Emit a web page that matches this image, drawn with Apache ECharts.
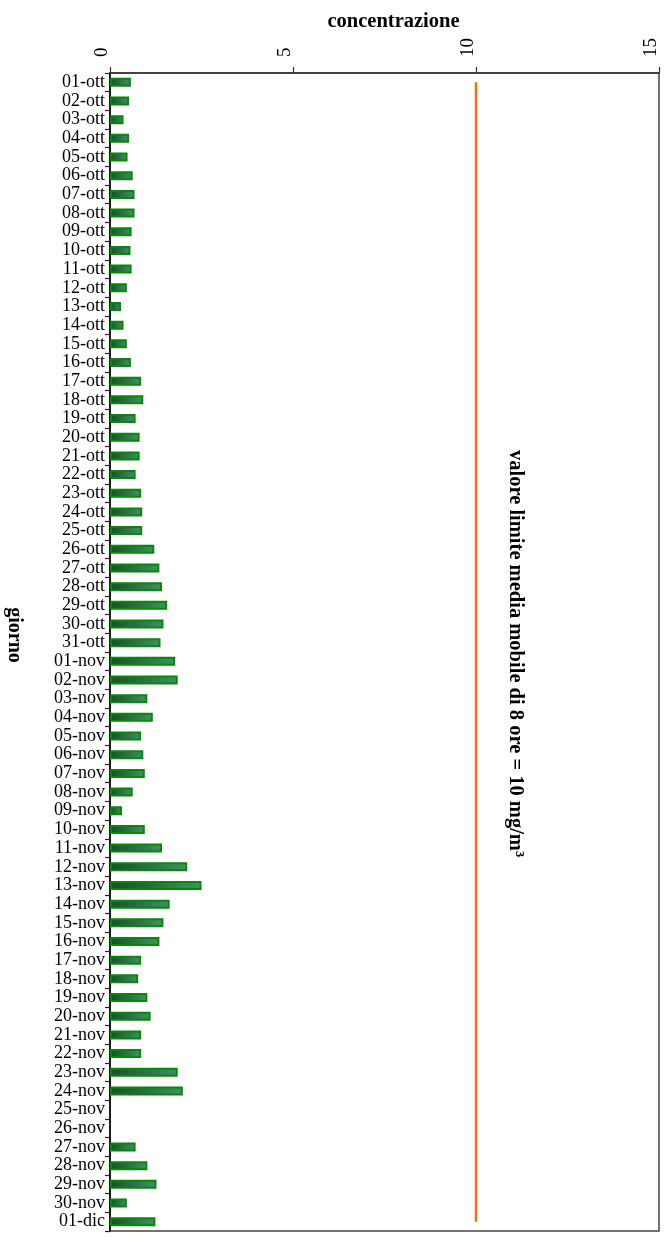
<!DOCTYPE html>
<html>
<head>
<meta charset="utf-8">
<script src="https://cdn.jsdelivr.net/npm/echarts@6/dist/echarts.min.js"></script>
<style>
html,body{margin:0;padding:0;background:#fff;}
#chart{width:668px;height:1237px;}
</style>
</head>
<body>
<div id="chart"></div>
<script>
const categories = [
  '01-ott','02-ott','03-ott','04-ott','05-ott','06-ott','07-ott','08-ott','09-ott','10-ott',
  '11-ott','12-ott','13-ott','14-ott','15-ott','16-ott','17-ott','18-ott','19-ott','20-ott',
  '21-ott','22-ott','23-ott','24-ott','25-ott','26-ott','27-ott','28-ott','29-ott','30-ott',
  '31-ott','01-nov','02-nov','03-nov','04-nov','05-nov','06-nov','07-nov','08-nov','09-nov',
  '10-nov','11-nov','12-nov','13-nov','14-nov','15-nov','16-nov','17-nov','18-nov','19-nov',
  '20-nov','21-nov','22-nov','23-nov','24-nov','25-nov','26-nov','27-nov','28-nov','29-nov',
  '30-nov','01-dic'
];
const concentrazione = [
  0.57,0.52,0.37,0.52,0.48,0.62,0.67,0.67,0.59,0.56,
  0.59,0.46,0.30,0.37,0.46,0.57,0.85,0.91,0.70,0.81,
  0.81,0.70,0.85,0.88,0.88,1.21,1.35,1.42,1.56,1.46,
  1.38,1.78,1.85,1.02,1.17,0.85,0.91,0.95,0.62,0.33,
  0.95,1.42,2.11,2.50,1.63,1.46,1.35,0.85,0.77,1.02,
  1.11,0.85,0.85,1.85,1.99,null,null,0.70,1.02,1.27,
  0.46,1.24
];
const limitValue = 10;
const xTicks = [0, 5, 10, 15];
const limitLabel = 'valore limite media mobile di 8 ore = 10 mg/m³';

const serif = "'Liberation Serif','Times New Roman',serif";
const chart = echarts.init(document.getElementById('chart'), null, {renderer: 'canvas'});
chart.setOption({
  backgroundColor: '#fff',
  animation: false,
  grid: {left: 110, right: 9, top: 73, bottom: 6, containLabel: false, outerBoundsMode: 'none',
         show: true, borderColor: '#444', borderWidth: 1.5, backgroundColor: 'transparent'},
  xAxis: {
    type: 'value', position: 'top',
    min: xTicks[0], max: xTicks[xTicks.length - 1], interval: 5,
    name: 'concentrazione', nameLocation: 'middle', nameGap: 41, nameMoveOverlap: false,
    nameTextStyle: {fontFamily: serif, fontSize: 20.5, fontWeight: 'bold', color: '#000', padding: [0, 0, 0, 18]},
    axisLine: {show: true, lineStyle: {color: '#333', width: 1.5}},
    axisTick: {show: true, length: 6, lineStyle: {color: '#333', width: 1.2}},
    axisLabel: {rotate: -90, fontFamily: serif, fontSize: 19, color: '#000', margin: 16,
                verticalAlign: 'bottom', lineHeight: 16},
    splitLine: {show: false}
  },
  yAxis: {
    type: 'category', inverse: true, data: categories,
    name: 'giorno', nameLocation: 'middle', nameGap: 96, nameRotate: -90, nameMoveOverlap: false,
    nameTextStyle: {fontFamily: serif, fontSize: 20, fontWeight: 'bold', color: '#000',
                    verticalAlign: 'middle', align: 'center', padding: [0, 34, 0, 0]},
    axisLine: {show: true, lineStyle: {color: '#000', width: 1.5}},
    axisTick: {show: true, length: 5, lineStyle: {color: '#222', width: 1.2}},
    axisLabel: {interval: 0, fontFamily: serif, fontSize: 18, color: '#000', margin: 5},
    splitLine: {show: false}
  },
  series: [
    {
      type: 'bar', data: concentrazione, barWidth: 9,
      itemStyle: {
        color: new echarts.graphic.LinearGradient(0, 0, 1, 0, [
          {offset: 0, color: '#1e4a2c'},
          {offset: 1, color: '#3f9168'}
        ]),
        borderColor: '#058a05', borderWidth: 2
      }
    },
    {
      type: 'line', data: categories.map(c => [limitValue, c]),
      symbol: 'none', lineStyle: {color: '#ff6a10', width: 2.5}, z: 3
    }
  ],
  graphic: [{
    type: 'text', left: 505, top: 450, rotation: -Math.PI / 2,
    style: {text: limitLabel, fontFamily: serif, fontSize: 20.5, fontWeight: 'bold', fill: '#000'}
  }]
});
</script>
</body>
</html>
